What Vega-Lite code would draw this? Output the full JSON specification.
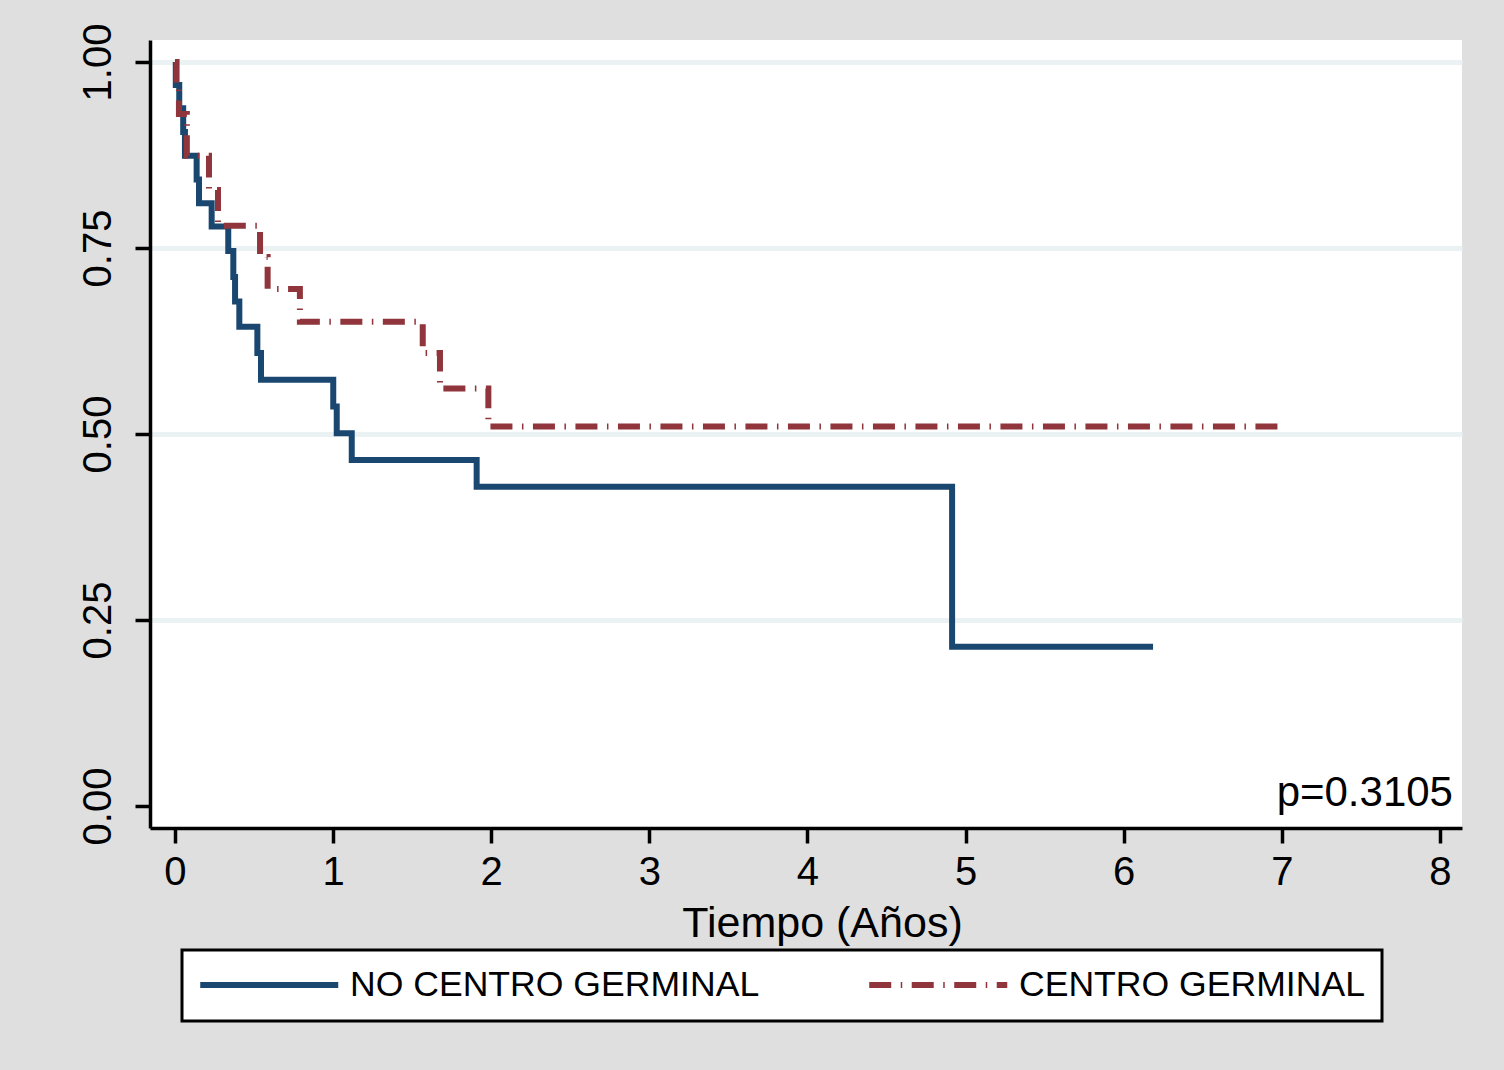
{
  "$schema": "https://vega.github.io/schema/vega-lite/v6.json",
  "width": 1312,
  "height": 788,
  "autosize": {"type": "none"},
  "padding": {"left": 150, "top": 40, "right": 42, "bottom": 242},
  "background": "#dfdfdf",
  "config": {
    "view": {"fill": "white", "stroke": null},
    "font": "Liberation Sans",
    "legend": {"strokeWidth": 3}
  },
  "data": {
    "values": [
      {"grupo": "NO CENTRO GERMINAL", "t": 0, "S": 1.0},
      {"grupo": "NO CENTRO GERMINAL", "t": 0.005, "S": 0.969},
      {"grupo": "NO CENTRO GERMINAL", "t": 0.027, "S": 0.938},
      {"grupo": "NO CENTRO GERMINAL", "t": 0.052, "S": 0.906},
      {"grupo": "NO CENTRO GERMINAL", "t": 0.063, "S": 0.874},
      {"grupo": "NO CENTRO GERMINAL", "t": 0.137, "S": 0.842},
      {"grupo": "NO CENTRO GERMINAL", "t": 0.152, "S": 0.81},
      {"grupo": "NO CENTRO GERMINAL", "t": 0.232, "S": 0.779},
      {"grupo": "NO CENTRO GERMINAL", "t": 0.337, "S": 0.746},
      {"grupo": "NO CENTRO GERMINAL", "t": 0.369, "S": 0.711},
      {"grupo": "NO CENTRO GERMINAL", "t": 0.38, "S": 0.678},
      {"grupo": "NO CENTRO GERMINAL", "t": 0.407, "S": 0.644},
      {"grupo": "NO CENTRO GERMINAL", "t": 0.521, "S": 0.609},
      {"grupo": "NO CENTRO GERMINAL", "t": 0.544, "S": 0.573},
      {"grupo": "NO CENTRO GERMINAL", "t": 1.001, "S": 0.537},
      {"grupo": "NO CENTRO GERMINAL", "t": 1.023, "S": 0.501},
      {"grupo": "NO CENTRO GERMINAL", "t": 1.118, "S": 0.465},
      {"grupo": "NO CENTRO GERMINAL", "t": 1.908, "S": 0.429},
      {"grupo": "NO CENTRO GERMINAL", "t": 4.915, "S": 0.214},
      {"grupo": "NO CENTRO GERMINAL", "t": 6.186, "S": 0.214},
      {"grupo": "CENTRO GERMINAL", "t": 0, "S": 1.0},
      {"grupo": "CENTRO GERMINAL", "t": 0.01, "S": 0.965},
      {"grupo": "CENTRO GERMINAL", "t": 0.025, "S": 0.93},
      {"grupo": "CENTRO GERMINAL", "t": 0.075, "S": 0.874},
      {"grupo": "CENTRO GERMINAL", "t": 0.215, "S": 0.828},
      {"grupo": "CENTRO GERMINAL", "t": 0.272, "S": 0.78},
      {"grupo": "CENTRO GERMINAL", "t": 0.538, "S": 0.738},
      {"grupo": "CENTRO GERMINAL", "t": 0.586, "S": 0.695},
      {"grupo": "CENTRO GERMINAL", "t": 0.79, "S": 0.651},
      {"grupo": "CENTRO GERMINAL", "t": 1.567, "S": 0.609},
      {"grupo": "CENTRO GERMINAL", "t": 1.676, "S": 0.561},
      {"grupo": "CENTRO GERMINAL", "t": 1.982, "S": 0.51},
      {"grupo": "CENTRO GERMINAL", "t": 7.0, "S": 0.51}
    ]
  },
  "encoding": {
    "x": {
      "field": "t",
      "type": "quantitative",
      "scale": {"domain": [-0.158, 8.14], "nice": false, "zero": false},
      "axis": {
        "values": [0, 1, 2, 3, 4, 5, 6, 7, 8],
        "format": "d",
        "title": "Tiempo (Años)",
        "titleFontSize": 43,
        "titleFontWeight": "normal",
        "titleColor": "black",
        "titlePadding": 10,
        "titleX": 672,
        "labelFontSize": 40,
        "labelColor": "black",
        "labelPadding": 9,
        "tickSize": 15,
        "tickWidth": 3.5,
        "tickColor": "black",
        "domainColor": "black",
        "domainWidth": 3.5,
        "grid": false,
        "labelFlush": false,
        "labelOverlap": false
      }
    },
    "y": {
      "field": "S",
      "type": "quantitative",
      "scale": {"domain": [-0.0296, 1.0296], "nice": false, "zero": false},
      "axis": {
        "values": [0, 0.25, 0.5, 0.75, 1],
        "format": ".2f",
        "title": null,
        "labelFontSize": 40,
        "labelColor": "black",
        "labelAngle": -90,
        "labelAlign": "center",
        "labelBaseline": "alphabetic",
        "labelPadding": 25,
        "tickSize": 15,
        "tickWidth": 3.5,
        "tickColor": "black",
        "domainColor": "black",
        "domainWidth": 3.5,
        "grid": true,
        "gridColor": "#eaf2f3",
        "gridWidth": 5,
        "gridOpacity": {"condition": {"test": "datum.value === 0", "value": 0}, "value": 1},
        "labelFlush": false,
        "labelOverlap": false
      }
    }
  },
  "layer": [
    {
      "transform": [{"filter": "datum.grupo === 'NO CENTRO GERMINAL'"}],
      "mark": {"type": "line", "interpolate": "step-after", "strokeWidth": 6},
      "encoding": {
        "color": {
          "field": "grupo",
          "type": "nominal",
          "scale": {"domain": ["NO CENTRO GERMINAL", "CENTRO GERMINAL"], "range": ["#1a476f", "#90353b"]},
          "legend": {
            "orient": "none",
            "legendX": 32,
            "legendY": 910,
            "direction": "horizontal",
            "columns": 2,
            "title": null,
            "fillColor": "white",
            "strokeColor": "black",
            "padding": 17,
            "labelFontSize": 35.6,
            "labelColor": "black",
            "labelLimit": 700,
            "labelOffset": 115.4,
            "columnPadding": 97,
            "symbolType": "M-1.2,0H8.8",
            "symbolSize": 762,
            "symbolStrokeWidth": 6
          }
        },
        "strokeDash": {
          "field": "grupo",
          "type": "nominal",
          "scale": {"domain": ["NO CENTRO GERMINAL", "CENTRO GERMINAL"], "range": [[1, 0], [22, 9.5, 1.5, 9.5]]},
          "legend": {
            "orient": "none",
            "legendX": 32,
            "legendY": 910,
            "direction": "horizontal",
            "columns": 2,
            "title": null,
            "fillColor": "white",
            "strokeColor": "black",
            "padding": 17,
            "labelFontSize": 35.6,
            "labelColor": "black",
            "labelLimit": 700,
            "labelOffset": 115.4,
            "columnPadding": 97,
            "symbolType": "M-1.2,0H8.8",
            "symbolSize": 762,
            "symbolStrokeWidth": 6
          }
        }
      }
    },
    {
      "transform": [{"filter": "datum.grupo === 'CENTRO GERMINAL'"}],
      "mark": {"type": "line", "interpolate": "step-after", "strokeWidth": 6},
      "encoding": {
        "color": {"field": "grupo", "type": "nominal"},
        "strokeDash": {"field": "grupo", "type": "nominal"}
      }
    },
    {
      "data": {"values": [{"t": 8.083, "S": 0.0, "etiqueta": "p=0.3105"}]},
      "mark": {"type": "text", "align": "right", "baseline": "alphabetic", "fontSize": 42, "color": "black"},
      "encoding": {
        "text": {"field": "etiqueta", "type": "nominal"}
      }
    }
  ]
}
